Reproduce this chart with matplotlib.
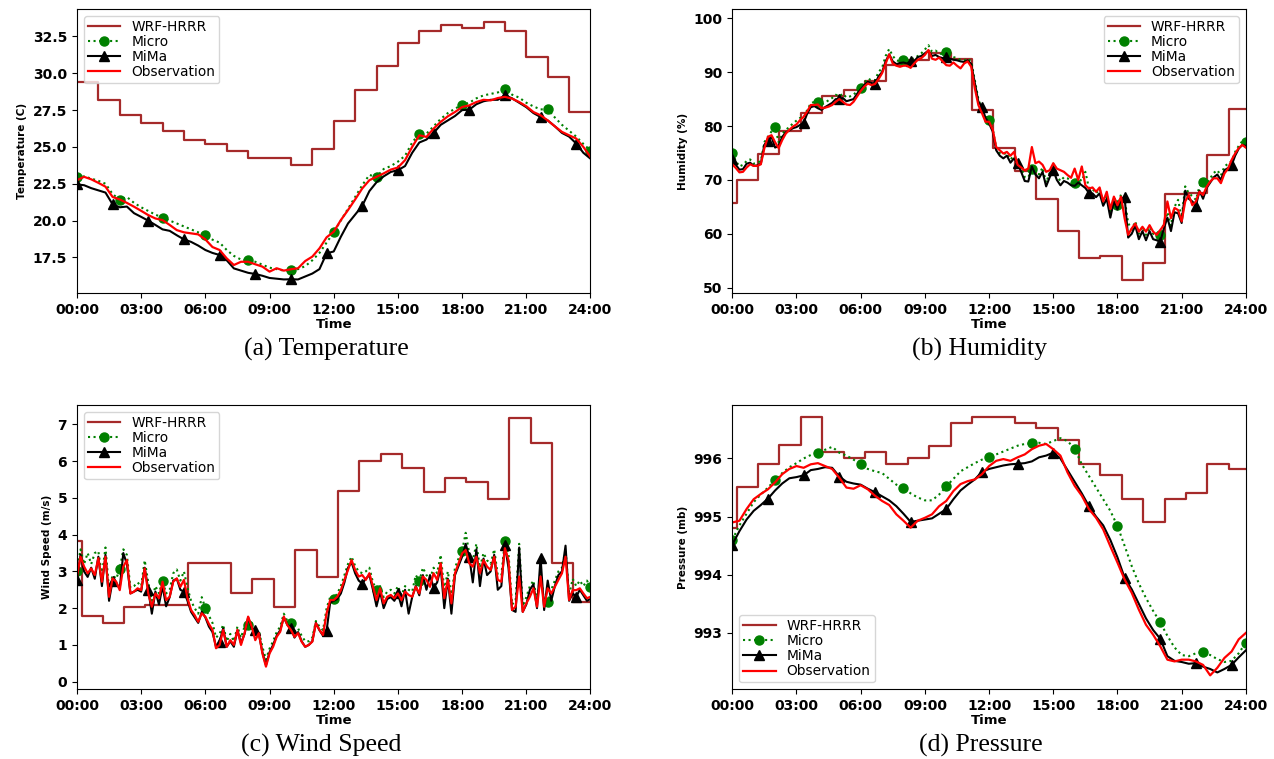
import numpy as np
import matplotlib.pyplot as plt

# time grids (hours)
t10 = np.arange(0, 1441, 10) / 60.0   # 10-min samples
t20 = np.arange(0, 1441, 20) / 60.0   # 20-min samples
xtick_pos = [0, 3, 6, 9, 12, 15, 18, 21, 24]
xtick_lab = ["00:00", "03:00", "06:00", "09:00", "12:00", "15:00", "18:00", "21:00", "24:00"]

#Temperature (20-min)
wrf_temp_t = [0, 1, 2, 3, 4, 5, 6, 7, 8, 9, 10, 11, 12, 13, 14, 15, 16, 17, 18, 19, 20, 21, 22, 23, 24]
wrf_temp = [29.4, 28.2, 27.2, 26.65, 26.06, 25.45, 25.18, 24.71, 24.25, 24.25, 23.76, 24.89, 26.74,
            28.84, 30.47, 32.07, 32.9, 33.29, 33.06, 33.47, 32.86, 31.1, 29.72, 27.37, 27.37]
temp_obs = [22.74, 22.97, 22.8, 22.56, 22.3, 21.6, 21.43, 21.2, 20.94, 20.66, 20.37, 20.14, 20.03,
            19.7, 19.35, 19.2, 19.13, 19.06, 18.72, 18.2, 18.0, 17.43, 16.98, 17.2, 17.2, 17.03,
            16.87, 16.53, 16.76, 16.6, 16.69, 16.76, 17.25, 17.55, 18.11, 18.86, 19.24, 20.03, 20.71,
            21.43, 22.18, 22.74, 22.97, 23.2, 23.46, 23.6, 24.1, 25.0, 25.79, 25.68, 26.24, 26.7,
            27.08, 27.37, 27.71, 27.82, 28.05, 28.2, 28.16, 28.32, 28.4, 28.28, 28.05, 27.76, 27.37,
            27.15, 26.8, 26.4, 26.02, 25.79, 25.57, 25.0, 24.32]
temp_micro = [22.95, 23.0, 22.85, 22.7, 22.5, 21.8, 21.4, 21.6, 21.2, 20.9, 20.65, 20.4, 20.2,
              20.0, 19.8, 19.6, 19.4, 19.2, 19.0, 18.7, 18.5, 18.0, 17.6, 17.35, 17.3, 17.2, 17.0,
              16.8, 16.7, 16.6, 16.65, 16.7, 16.9, 17.3, 17.8, 18.5, 19.2, 20.0, 20.8, 21.6, 22.4,
              23.1, 22.95, 23.5, 23.7, 24.0, 24.4, 25.3, 25.9, 25.9, 26.4, 26.9, 27.3, 27.6, 27.85,
              28.0, 28.3, 28.5, 28.6, 28.7, 28.9, 28.55, 28.35, 28.0, 27.75, 27.55, 27.55, 27.0,
              26.5, 26.1, 25.7, 25.2, 24.75]
temp_mima = [22.45, 22.4, 22.2, 22.05, 21.9, 21.1, 20.9, 20.95, 20.5, 20.25, 19.99, 19.7, 19.4,
             19.3, 19.0, 18.72, 18.55, 18.3, 18.0, 17.8, 17.66, 17.3, 16.75, 16.6, 16.45, 16.37,
             16.25, 16.1, 16.05, 16.0, 16.01, 16.0, 16.2, 16.4, 16.7, 17.77, 17.9, 18.9, 19.8, 20.4,
             21.0, 22.0, 22.6, 23.0, 23.3, 23.42, 23.7, 24.6, 25.3, 25.5, 25.95, 26.5, 26.8, 27.1,
             27.5, 27.53, 27.9, 28.1, 28.2, 28.2, 28.5, 28.3, 28.0, 27.7, 27.3, 27.03, 26.8, 26.4,
             25.95, 25.7, 25.23, 24.6, 24.2]

#Humidity (10-min)
wrf_hum_t = [0, 0.2, 1.2, 2.2, 3.2, 4.2, 5.2, 6.2, 7.2, 8.2, 9.2, 10.2, 11.2, 12.2, 13.2, 14.2,
             15.2, 16.2, 17.2, 18.2, 19.2, 20.2, 21.2, 22.2, 23.2, 24]
wrf_hum = [65.7, 70.0, 74.8, 79.0, 82.4, 85.5, 86.6, 88.3, 91.3, 92.2, 93.6, 92.4, 83.0, 76.0,
           71.6, 66.5, 60.5, 55.5, 55.9, 51.4, 54.6, 67.3, 67.6, 74.7, 83.1, 83.1]
hum_obs = [72.9, 72.2, 71.4, 71.5, 72.3, 72.9, 72.6, 72.6, 72.9, 75.9, 78.0, 78.3,
           77.0, 75.9, 77.4, 78.6, 79.3, 79.9, 80.3, 81.1, 81.7, 82.7, 83.9, 83.9,
           84.0, 83.3, 83.4, 83.6, 83.9, 84.5, 85.0, 84.5, 84.0, 83.9, 84.5, 85.5,
           86.5, 87.3, 87.9, 87.6, 87.8, 88.7, 89.8, 91.6, 93.3, 91.6, 91.2, 91.0,
           91.2, 91.2, 90.8, 91.6, 92.3, 92.6, 93.2, 94.1, 92.5, 92.3, 92.7, 92.0,
           91.3, 91.2, 91.8, 91.2, 90.7, 91.6, 92.0, 91.0, 87.0, 83.9, 82.4, 80.8,
           80.8, 79.4, 76.1, 75.5, 74.9, 75.2, 74.5, 75.2, 72.8, 72.3, 71.8, 72.1,
           76.1, 73.1, 73.4, 72.8, 71.5, 71.8, 73.1, 72.1, 71.8, 71.5, 70.9, 70.4,
           72.1, 70.0, 72.5, 69.0, 68.4, 68.6, 67.8, 68.6, 66.0, 67.8, 64.6, 66.9,
           65.3, 66.9, 62.9, 59.8, 61.0, 61.9, 60.4, 61.3, 60.4, 61.6, 60.4, 59.8,
           60.7, 61.6, 66.0, 62.9, 64.8, 64.4, 62.3, 66.0, 67.2, 65.3, 66.0, 67.8,
           67.2, 68.7, 69.7, 70.3, 70.3, 69.4, 71.2, 72.1, 73.7, 74.9, 75.9, 76.5, 76.0]
hum_mima = [73.8, 72.8, 71.9, 72.0, 73.0, 73.2, 72.6, 72.7, 73.0, 76.5, 77.2, 78.0,
            76.0, 76.3, 78.0, 78.8, 79.2, 79.6, 79.8, 80.2, 80.6, 82.3, 83.5, 83.7,
            83.3, 83.0, 83.5, 83.9, 84.3, 85.0, 85.0, 85.2, 84.6, 84.8, 85.0, 86.0,
            86.8, 87.6, 88.2, 88.0, 87.8, 89.2, 90.0, 92.0, 93.3, 92.0, 91.5, 91.7,
            91.8, 91.6, 92.1, 92.0, 92.8, 93.0, 93.5, 94.0, 93.0, 93.2, 92.8, 92.6,
            92.8, 92.5, 92.3, 92.2, 92.0, 91.9, 92.2, 91.5, 88.0, 84.5, 83.6, 81.5,
            80.5, 79.0, 75.5, 74.5, 74.0, 74.5, 73.2, 74.0, 73.1, 71.5, 69.8, 69.7,
            72.5, 71.0, 70.3, 71.5, 68.8, 70.5, 71.8, 70.0, 69.0, 69.8, 69.5, 69.0,
            68.9, 69.5, 69.0, 68.5, 67.6, 67.5, 66.8, 67.5, 65.2, 66.5, 63.0, 66.0,
            64.5, 66.5, 66.8, 59.3, 60.0, 61.5, 59.0, 60.5, 58.8, 60.5, 59.0, 58.8,
            58.5, 61.0, 63.0, 60.5, 64.0, 63.8, 62.0, 68.0, 66.5, 66.0, 65.2, 68.0,
            66.5, 68.5, 69.5, 70.5, 71.0, 70.0, 71.8, 72.2, 72.7, 74.5, 75.8, 76.5, 76.3]
hum_micro = [75.0, 73.5, 72.5, 72.8, 73.5, 73.8, 73.0, 73.2, 73.5, 77.0, 78.0, 79.0,
             79.8, 77.0, 78.5, 79.3, 79.8, 80.5, 81.0, 81.5, 81.5, 83.0, 84.2, 84.5,
             84.5, 84.0, 84.3, 84.8, 85.2, 85.8, 85.5, 86.0, 85.3, 85.5, 85.8, 86.5,
             87.0, 88.0, 88.8, 88.5, 88.5, 90.0, 90.8, 93.0, 94.3, 93.0, 92.2, 92.0,
             92.3, 92.0, 92.5, 92.5, 93.0, 93.5, 94.2, 95.0, 93.8, 94.0, 93.5, 93.3,
             93.8, 93.0, 92.8, 92.6, 92.3, 92.2, 92.5, 92.0, 88.5, 85.0, 83.0, 81.8,
             81.2, 79.5, 76.0, 75.0, 74.8, 75.0, 73.8, 74.5, 73.8, 72.3, 70.5, 70.5,
             72.0, 71.8, 71.0, 72.3, 69.5, 71.3, 73.0, 70.8, 69.8, 70.5, 70.3, 69.8,
             69.5, 70.3, 69.8, 71.5, 68.5, 68.3, 67.5, 68.3, 66.0, 67.3, 64.0, 66.8,
             65.3, 67.3, 66.5, 62.0, 60.8, 62.3, 60.0, 61.3, 59.8, 61.3, 60.0, 59.8,
             59.8, 62.0, 64.0, 61.5, 65.0, 66.3, 63.0, 68.8, 67.5, 67.0, 66.3, 68.8,
             69.6, 69.3, 70.3, 71.3, 71.8, 70.8, 72.5, 73.0, 73.5, 75.2, 76.3, 77.2, 77.0]

#Wind speed (10-min)
wrf_wind_t = [0, 0.23, 1.2, 2.2, 3.2, 4.2, 5.2, 6.2, 7.2, 8.2, 9.2, 10.2, 11.2, 12.2, 13.2, 14.2,
              15.2, 16.2, 17.2, 18.2, 19.2, 20.2, 21.2, 22.2, 23.2, 24]
wrf_wind = [3.82, 1.8, 1.6, 2.04, 2.08, 2.08, 3.24, 3.24, 2.42, 2.79, 2.04, 3.58, 2.86, 5.19,
            6.0, 6.18, 5.82, 5.17, 5.55, 5.42, 4.98, 7.16, 6.49, 3.22, 2.16, 2.16]
wind_obs = [2.86, 3.40, 3.13, 2.95, 3.08, 2.90, 3.36, 2.72, 3.40, 2.31, 2.81, 2.72,
            2.49, 3.13, 3.31, 2.40, 2.45, 2.54, 2.49, 3.08, 2.40, 2.04, 2.40, 2.27,
            2.72, 2.22, 2.31, 2.72, 2.81, 2.58, 2.77, 2.27, 1.95, 1.81, 1.63, 1.86,
            1.77, 1.57, 1.41, 0.91, 1.00, 1.41, 0.95, 1.13, 1.00, 1.41, 1.00, 1.32,
            1.77, 1.50, 1.13, 1.32, 0.77, 0.41, 0.77, 0.95, 1.22, 1.36, 1.77, 1.54,
            1.41, 1.22, 1.32, 1.09, 0.95, 1.00, 1.09, 1.59, 1.41, 1.27, 1.86, 2.22,
            2.22, 2.31, 2.49, 2.77, 3.04, 3.31, 3.04, 2.86, 2.90, 2.77, 2.95, 2.58,
            2.22, 2.54, 2.13, 2.31, 2.36, 2.27, 2.40, 2.22, 2.45, 2.36, 2.31, 2.58,
            2.40, 2.86, 2.77, 2.58, 2.95, 2.77, 3.22, 2.27, 2.77, 2.13, 2.95, 3.22,
            3.49, 3.58, 3.22, 3.13, 3.40, 2.95, 3.31, 3.13, 3.04, 3.40, 2.77, 2.72,
            3.63, 3.31, 1.95, 2.04, 2.86, 1.90, 2.13, 2.31, 2.54, 2.04, 2.86, 2.04,
            2.54, 2.40, 2.58, 2.77, 2.95, 3.40, 2.22, 2.49, 2.49, 2.54, 2.40, 2.27, 2.31]
wind_mima = [2.77, 3.45, 3.0, 2.85, 3.1, 2.8, 3.4, 2.6, 3.45, 2.2, 2.75, 2.65,
             2.55, 3.5, 3.2, 2.4, 2.45, 2.5, 2.45, 3.1, 2.5, 1.85, 2.45, 2.1,
             2.6, 2.05, 2.3, 2.75, 2.8, 2.5, 2.45, 2.2, 1.9, 1.75, 1.6, 1.9,
             1.75, 1.5, 1.35, 0.95, 1.09, 1.45, 0.95, 1.1, 0.95, 1.4, 1.05, 1.3,
             1.75, 1.45, 1.4, 1.3, 0.8, 0.45, 0.8, 1.0, 1.25, 1.4, 1.75, 1.55,
             1.47, 1.2, 1.35, 1.1, 0.95, 1.0, 1.1, 1.6, 1.4, 1.25, 1.38, 2.15,
             2.2, 2.25, 2.4, 2.7, 3.1, 3.25, 2.95, 2.75, 2.67, 2.8, 2.9, 2.5,
             2.05, 2.45, 2.0, 2.25, 2.3, 2.2, 2.4, 2.05, 2.5, 1.85, 2.3, 2.6,
             2.35, 2.9, 2.5, 2.9, 2.56, 2.7, 3.1, 2.0, 2.8, 1.85, 2.9, 3.15,
             3.4, 3.75, 3.4, 2.7, 3.6, 2.6, 3.35, 2.9, 3.0, 3.45, 2.5, 2.6,
             3.72, 3.1, 1.95, 1.9, 3.65, 1.9, 2.1, 2.5, 2.65, 2.0, 3.37, 1.95,
             2.75, 2.2, 2.6, 2.9, 3.0, 3.7, 2.2, 2.4, 2.31, 2.5, 2.35, 2.2, 2.25]
wind_micro = [3.0, 3.6, 3.2, 3.5, 3.2, 3.5, 3.55, 2.9, 3.65, 2.5, 2.9, 2.8,
              3.06, 3.6, 3.45, 2.55, 2.6, 2.7, 2.6, 3.3, 2.7, 2.2, 2.6, 2.4,
              2.75, 2.4, 2.5, 2.95, 3.05, 2.75, 3.0, 2.55, 2.2, 2.0, 1.85, 2.3,
              2.0, 1.8, 1.6, 1.2, 1.3, 1.55, 1.1, 1.3, 1.1, 1.5, 1.2, 1.5,
              1.54, 1.6, 1.35, 1.4, 0.95, 0.6, 0.9, 1.1, 1.35, 1.5, 1.85, 1.65,
              1.59, 1.35, 1.45, 1.25, 1.1, 1.1, 1.2, 1.65, 1.5, 1.4, 2.0, 2.3,
              2.24, 2.4, 2.6, 2.9, 3.2, 3.4, 3.15, 3.0, 2.95, 3.0, 3.1, 2.7,
              2.5, 2.6, 2.3, 2.45, 2.5, 2.4, 2.6, 2.35, 2.6, 2.5, 2.45, 2.9,
              2.74, 3.1, 2.9, 2.8, 3.1, 2.95, 3.45, 2.5, 3.0, 2.3, 3.1, 3.35,
              3.55, 4.05, 3.5, 3.3, 3.75, 3.1, 3.5, 3.3, 3.2, 3.6, 2.9, 2.9,
              3.83, 3.5, 2.1, 2.2, 3.75, 2.05, 2.3, 2.6, 2.75, 2.2, 2.95, 2.15,
              2.18, 2.5, 2.75, 3.0, 3.1, 3.6, 2.35, 2.8, 2.6, 2.75, 2.6, 2.75, 2.57]

#Pressure (20-min)
wrf_pres_t = [0, 0.2, 1.2, 2.2, 3.2, 4.2, 5.2, 6.2, 7.2, 8.2, 9.2, 10.2, 11.2, 12.2, 13.2, 14.2,
              15.2, 16.2, 17.2, 18.2, 19.2, 20.2, 21.2, 22.2, 23.2, 24]
wrf_pres = [994.81, 995.51, 995.91, 996.24, 996.71, 996.11, 996.0, 996.11, 995.91, 996.0, 996.22,
            996.61, 996.71, 996.71, 996.61, 996.52, 996.32, 995.91, 995.71, 995.31, 994.91,
            995.31, 995.41, 995.91, 995.82, 995.82]
pres_obs = [994.90, 994.93, 995.13, 995.30, 995.39, 995.47, 995.59, 995.73, 995.82, 995.87,
            995.84, 995.90, 995.92, 995.87, 995.82, 995.67, 995.50, 995.48, 995.54, 995.47,
            995.36, 995.27, 995.20, 995.04, 994.93, 994.81, 994.93, 994.98, 995.04, 995.18,
            995.27, 995.44, 995.56, 995.61, 995.64, 995.73, 995.87, 995.96, 995.99, 995.96,
            996.02, 996.07, 996.16, 996.22, 996.25, 996.16, 996.05, 995.76, 995.53, 995.36,
            995.13, 994.98, 994.78, 994.49, 994.21, 993.92, 993.69, 993.40, 993.14, 992.97,
            992.77, 992.54, 992.51, 992.54, 992.54, 992.51, 992.45, 992.27, 992.40, 992.57,
            992.68, 992.89, 993.00]
pres_mima = [994.52, 994.75, 994.95, 995.1, 995.2, 995.31, 995.45, 995.57, 995.66, 995.68,
             995.71, 995.8, 995.82, 995.85, 995.84, 995.69, 995.6, 995.57, 995.55, 995.48,
             995.42, 995.35, 995.28, 995.18, 995.05, 994.91, 994.93, 994.95, 994.97, 995.05,
             995.13, 995.3, 995.45, 995.55, 995.64, 995.77, 995.82, 995.85, 995.88, 995.9,
             995.91, 995.92, 995.95, 996.02, 996.05, 996.10, 996.0, 995.8, 995.6, 995.4,
             995.18, 995.0, 994.85, 994.6, 994.3, 993.95, 993.75, 993.5, 993.25, 993.05,
             992.90, 992.6, 992.52, 992.5, 992.47, 992.48, 992.42, 992.38, 992.32, 992.38,
             992.45, 992.58, 992.7]
pres_micro = [994.6, 994.85, 995.05, 995.25, 995.38, 995.5, 995.63, 995.75, 995.85, 995.92,
              996.0, 996.06, 996.1, 996.15, 996.2, 996.1, 996.05, 995.98, 995.9, 995.82,
              995.78, 995.75, 995.65, 995.55, 995.5, 995.4, 995.33, 995.28, 995.28, 995.38,
              995.52, 995.65, 995.78, 995.85, 995.92, 995.98, 996.03, 996.07, 996.12, 996.17,
              996.22, 996.25, 996.26, 996.27, 996.25, 996.3, 996.35, 996.3, 996.17, 995.9,
              995.7, 995.5, 995.3, 995.1, 994.84, 994.5, 994.15, 993.85, 993.6, 993.38,
              993.18, 992.95, 992.75, 992.62, 992.6, 992.65, 992.67, 992.62, 992.55, 992.5,
              992.52, 992.65, 992.83]


def plot_panel(ax, t, micro, mima, obs, wrf_t, wrf, ylabel, ylim, legend_loc, step):
    ax.step(wrf_t, wrf, where="post", color="#a52a2a", lw=1.6, label="WRF-HRRR")
    ax.plot(t, micro, color="green", ls=":", lw=1.5, marker="o", ms=6.5,
            markevery=12 // step, label="Micro")
    ax.plot(t, mima, color="black", lw=1.5, marker="^", ms=6.5,
            markevery=10 // step, label="MiMa")
    ax.plot(t, obs, color="red", lw=1.6, label="Observation")
    ax.set_xlim(0, 24)
    ax.set_ylim(*ylim)
    ax.set_xticks(xtick_pos)
    ax.set_xticklabels(xtick_lab)
    ax.tick_params(labelsize=10)
    for lab in ax.get_xticklabels() + ax.get_yticklabels():
        lab.set_fontweight("bold")
    ax.set_xlabel("Time", fontsize=9.5, fontweight="bold", labelpad=1)
    ax.set_ylabel(ylabel, fontsize=7.5, fontweight="bold")
    ax.legend(loc=legend_loc, fontsize=9.9, labelspacing=0.08, borderpad=0.3,
              handlelength=2.35, handletextpad=0.8)


fig = plt.figure(figsize=(12.74, 7.59), dpi=100)
ax_a = fig.add_axes([0.0604, 0.6136, 0.4031, 0.3746])
ax_b = fig.add_axes([0.5748, 0.6136, 0.4031, 0.3746])
ax_c = fig.add_axes([0.0604, 0.0918, 0.4031, 0.3746])
ax_d = fig.add_axes([0.5748, 0.0918, 0.4031, 0.3746])

plot_panel(ax_a, t20, temp_micro, temp_mima, temp_obs, wrf_temp_t, wrf_temp,
           "Temperature (C)", (15.06, 34.37), "upper left", 2)
plot_panel(ax_b, t10, hum_micro, hum_mima, hum_obs, wrf_hum_t, wrf_hum,
           "Humidity (%)", (48.96, 101.73), "upper right", 1)
plot_panel(ax_c, t10, wind_micro, wind_mima, wind_obs, wrf_wind_t, wrf_wind,
           "Wind Speed (m/s)", (-0.207, 7.525), "upper left", 1)
plot_panel(ax_d, t20, pres_micro, pres_mima, pres_obs, wrf_pres_t, wrf_pres,
           "Pressure (mb)", (992.03, 996.92), "lower left", 2)
ax_b.set_yticks([50, 60, 70, 80, 90, 100])
ax_d.set_yticks([993, 994, 995, 996])
for lab in ax_b.get_yticklabels() + ax_d.get_yticklabels():
    lab.set_fontweight("bold")

cap = dict(ha="center", va="center", family="Liberation Serif", fontsize=18.5)
fig.text(326 / 1274, 1 - 349 / 759, "(a) Temperature", **cap)
fig.text(980 / 1274, 1 - 349 / 759, "(b) Humidity", **cap)
fig.text(321 / 1274, 1 - 745 / 759, "(c) Wind Speed", **cap)
fig.text(981 / 1274, 1 - 745 / 759, "(d) Pressure", **cap)

fig.savefig("out.png", dpi=100)
